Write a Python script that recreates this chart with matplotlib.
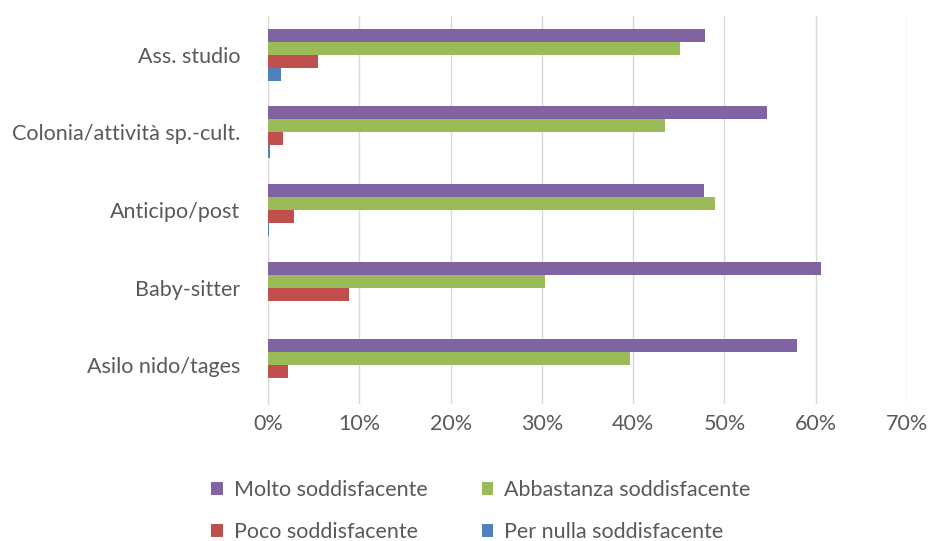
import matplotlib.pyplot as plt
import numpy as np
from matplotlib.ticker import PercentFormatter

# Categories listed bottom to top
categories = ["Asilo nido/tages", "Baby-sitter", "Anticipo/post",
              "Colonia/attività sp.-cult.", "Ass. studio"]
series_names = ["Molto soddisfacente", "Abbastanza soddisfacente",
                "Poco soddisfacente", "Per nulla soddisfacente"]
molto = [57.9, 60.6, 47.8, 54.7, 47.9]
abbastanza = [39.7, 30.3, 49.0, 43.5, 45.1]
poco = [2.2, 8.9, 2.9, 1.6, 5.5]
per_nulla = [0.0, 0.0, 0.15, 0.2, 1.4]
colors = ["#8064A2", "#9BBB59", "#C0504D", "#4F81BD"]

plt.rcParams['font.family'] = ['Lato', 'DejaVu Sans']

fig = plt.figure(figsize=(9.3, 5.41), dpi=100)
ax = fig.add_axes([268 / 930, 1 - 404 / 541, (907 - 268) / 930, 388 / 541])

y = np.arange(len(categories))
h = 0.167
values = [molto, abbastanza, poco, per_nulla]
# first series on top of each group
offsets = [1.5 * h, 0.5 * h, -0.5 * h, -1.5 * h]
bars = []
for vals, off, col, name in zip(values, offsets, colors, series_names):
    bars.append(ax.barh(y + off, vals, height=h, color=col, label=name, zorder=3))

ax.set_xlim(0, 70)
ax.set_ylim(-0.5, len(categories) - 0.5)
ax.set_xticks(np.arange(0, 71, 10))
ax.xaxis.set_major_formatter(PercentFormatter(decimals=0))
ax.set_yticks(y)
ax.set_yticklabels(categories)
ax.tick_params(axis='both', length=0, labelsize=15.5, colors="#595959")
ax.tick_params(axis='y', pad=20)
ax.tick_params(axis='x', pad=7)
ax.grid(axis='x', color="#D9D9D9", linewidth=1, zorder=0)
for side in ["top", "right", "bottom"]:
    ax.spines[side].set_visible(False)
ax.spines["left"].set_color("#D9D9D9")

# legend filled row by row like the original
order = [0, 2, 1, 3]
fig.legend([bars[i] for i in order], [series_names[i] for i in order],
           ncol=2, loc="upper left",
           bbox_to_anchor=(192 / 930, 1 - 461 / 541), frameon=False,
           fontsize=15.5, labelcolor="#595959", handlelength=0.55,
           handleheight=0.55, handletextpad=0.5, columnspacing=2.5,
           labelspacing=1.0)

plt.savefig("out.png", dpi=100)
